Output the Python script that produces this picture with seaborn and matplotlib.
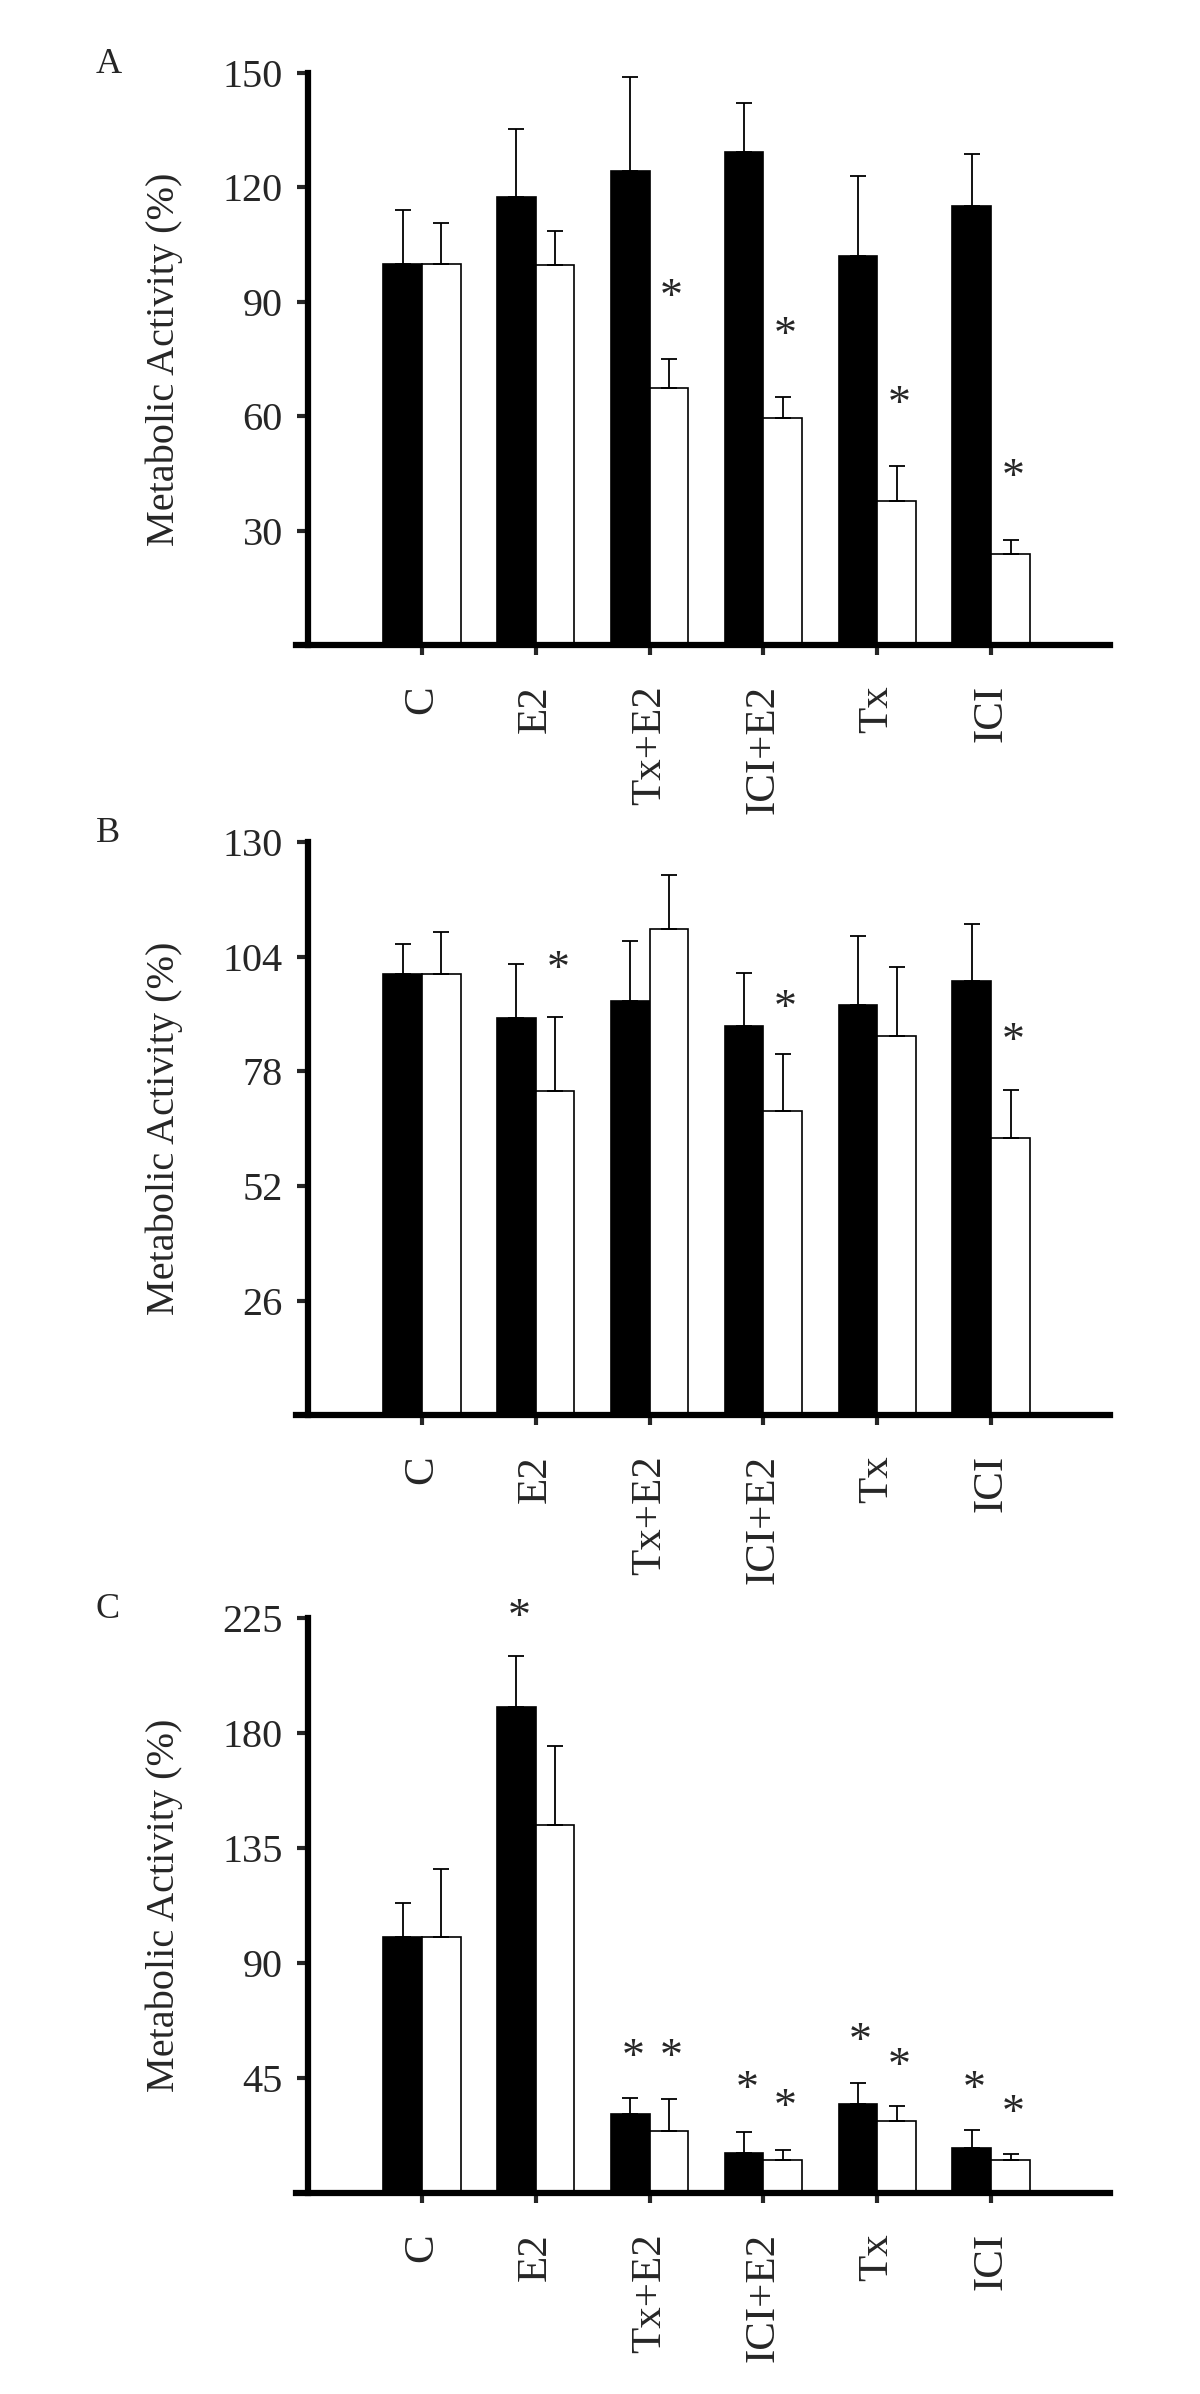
import pandas as pd
import seaborn as sns
import matplotlib.pyplot as plt
import numpy as np

sns.set_style("white")
plt.rcParams['font.family'] = ['Liberation Serif', 'DejaVu Serif']

groups = ["C", "E2", "Tx+E2", "ICI+E2", "Tx", "ICI"]

# Panel A
a_black = [100, 117.4, 124.3, 129.4, 102.1, 115.2]
a_black_err = [14, 18, 24.6, 12.8, 20.9, 13.5]
a_white = [100, 99.7, 67.4, 59.6, 37.8, 23.9]
a_white_err = [10.7, 8.9, 7.7, 5.5, 9.1, 3.5]
a_ticks = [30, 60, 90, 120, 150]
# significance stars: (series, group index, height)
a_stars = [(1, 2, 93.6), (1, 3, 83.6), (1, 4, 65.5), (1, 5, 46.4)]

# Panel B
b_black = [100, 90.0, 93.9, 88.3, 93.1, 98.6]
b_black_err = [6.8, 12.4, 13.6, 12.0, 15.7, 12.9]
b_white = [100, 73.5, 110.2, 68.9, 86.1, 62.8]
b_white_err = [9.7, 16.8, 12.4, 13.0, 15.6, 10.9]
b_ticks = [26, 52, 78, 104, 130]
b_stars = [(1, 1, 103.2), (1, 3, 94.3), (1, 5, 86.8)]

# Panel C
c_black = [100, 190.2, 31, 15.6, 34.6, 17.6]
c_black_err = [13.4, 20, 6, 8.4, 8.4, 7]
c_white = [100, 144, 24.2, 12.8, 28.2, 12.8]
c_white_err = [26.8, 31, 12.4, 3.8, 5.8, 2.4]
c_ticks = [45, 90, 135, 180, 225]
c_stars = [(0, 1, 228.6), (0, 2, 56.6), (1, 2, 56.6), (0, 3, 44), (1, 3, 37),
           (0, 4, 62.6), (1, 4, 53), (0, 5, 44), (1, 5, 34.6)]

panels = [
    ("A", a_black, a_black_err, a_white, a_white_err, a_ticks, a_stars),
    ("B", b_black, b_black_err, b_white, b_white_err, b_ticks, b_stars),
    ("C", c_black, c_black_err, c_white, c_white_err, c_ticks, c_stars),
]

fig = plt.figure(figsize=(12, 23.94), dpi=100)

# axes rectangles (left, bottom, width, height) in figure fraction
rects = [
    (0.2467, 0.7306, 0.678, 0.2389),
    (0.2467, 0.4089, 0.678, 0.2393),
    (0.2467, 0.0840, 0.678, 0.2402),
]

STAR_FS = 33

for (letter, black, black_err, white, white_err, ticks, stars), rect in zip(panels, rects):
    ax = fig.add_axes(rect)
    df = pd.DataFrame({
        "group": groups * 2,
        "series": ["black"] * 6 + ["white"] * 6,
        "value": black + white,
    })
    sns.barplot(data=df, x="group", y="value", hue="series",
                palette=["black", "white"], edgecolor="black", linewidth=1.2,
                width=0.68, errorbar=None, legend=False, saturation=1, ax=ax)

    # upper error bars only
    for cont, err in zip(ax.containers, [black_err, white_err]):
        xs = [b.get_x() + b.get_width() / 2 for b in cont]
        hs = [b.get_height() for b in cont]
        ax.errorbar(xs, hs, yerr=[np.zeros(len(err)), err], fmt="none",
                    ecolor="black", elinewidth=1.3, capsize=5.5, capthick=1.3)

    # stars, glyph centred on the given height
    for s, g, y in stars:
        b = ax.containers[s][g]
        ax.annotate("*", (b.get_x() + b.get_width() / 2, y),
                    xytext=(2, -0.47 * STAR_FS), textcoords="offset points",
                    ha="center", va="baseline", fontsize=STAR_FS,
                    annotation_clip=False)

    ax.set_xlim(-1.105, 6.04)
    ax.set_ylim(0, ticks[-1])
    ax.set_yticks(ticks)
    ax.set_yticklabels([str(t) for t in ticks])
    ax.set_xlabel("")
    ax.set_ylabel("Metabolic Activity (%)", fontsize=29)
    ax.yaxis.set_label_coords(-0.139, 0.5)

    for side in ["top", "right"]:
        ax.spines[side].set_visible(False)
    ax.spines["left"].set_position(("data", -1))
    ax.spines["left"].set_linewidth(4.5)
    ax.spines["bottom"].set_linewidth(4.5)
    ax.spines["left"].set_color("black")
    ax.spines["bottom"].set_color("black")

    ax.tick_params(axis="y", direction="out", length=8, width=3, pad=10,
                   labelsize=29, left=True)
    ax.tick_params(axis="x", direction="out", length=7, width=3, pad=22,
                   labelsize=31, bottom=True, labelrotation=90)
    for lab in ax.get_xticklabels():
        lab.set_va("top")

    ax.text(-0.246, 1.0, letter, transform=ax.transAxes, fontsize=26,
            ha="left", va="baseline")

fig.savefig("out.png", dpi=100)
